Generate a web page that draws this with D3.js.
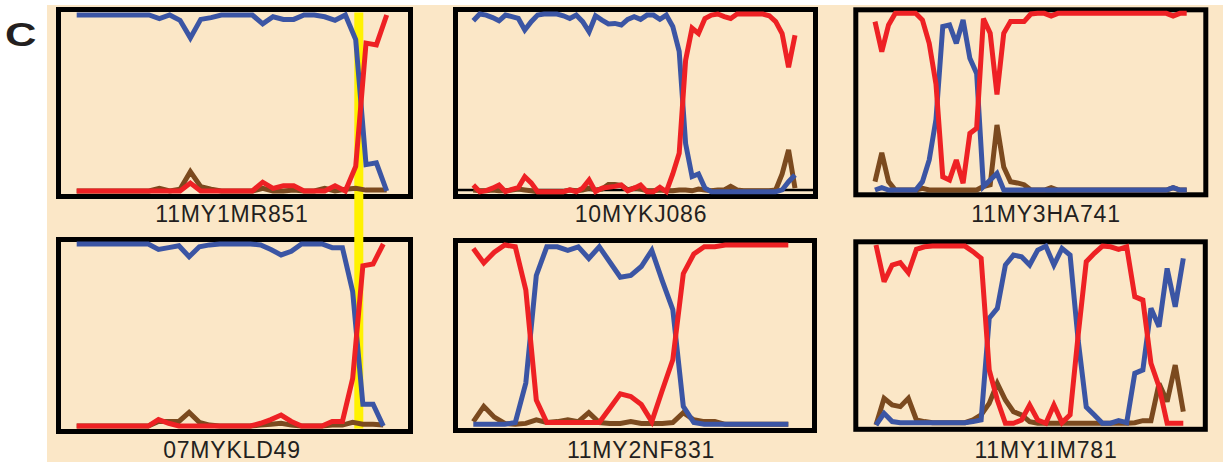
<!DOCTYPE html>
<html>
<head>
<meta charset="utf-8">
<script src="https://cdn.jsdelivr.net/npm/d3@7/dist/d3.min.js"></script>
<style>
  html, body { margin: 0; padding: 0; background: #fff; }
  svg { display: block; }
</style>
</head>
<body>
<div id="chart"></div>
<script>
// sample names, one per panel (row by row)
var sampleNames = ['11MY1MR851', '10MYKJ086', '11MY3HA741', '07MYKLD49', '11MY2NF831', '11MY1IM781'];

// panel 1 - 11MY1MR851
var mr851Blue  = [1,1,1,1,1,1,1,1,0.98,1,0.97,0.87,0.975,0.985,1,1,1,1,0.95,0.99,0.975,0.975,1,1,0.99,0.97,1,0.86,0.15,0.16,0];
var mr851Red   = [0,0,0,0,0,0,0,0,0,0,0,0.045,0,0,0,0,0,0,0.05,0.015,0.03,0.03,0,0,0,0.03,0,0.14,0.84,0.83,1];
var mr851Brown = [0,0,0,0,0,0,0,0,0.015,0,0.01,0.11,0.025,0.01,0,0,0,0,0.015,0,0,0.005,0,0,0.015,0,0.01,0.015,0.005,0.005,0.005];

// panel 2 - 10MYKJ086
var kj086Blue  = [0.962,1,0.994,0.98,0.962,0.994,0.985,0.975,0.91,0.957,0.994,1,1,1,0.99,0.975,0.994,0.957,0.9,0.99,
                  0.966,0.944,0.947,0.938,0.97,0.985,0.97,0.994,0.994,0.97,0.994,0.93,0.79,0.27,0.085,0.1,0.02,0,0,0,
                  0,0,0,0,0,0,0,0,0.01,0.056,0.094];
var kj086Red   = [0.038,0,0.006,0.02,0.038,0,0.013,0.023,0.084,0.05,0,0,0,0,0,0.01,0,0.02,0.066,0,
                  0.02,0.025,0.03,0.038,0.005,0.02,0.038,0,0,0.025,0,0.1,0.216,0.74,0.92,0.89,0.975,0.994,1,0.985,
                  0.975,1,1,1,1,1,0.99,0.957,0.89,0.7,0.88];
var kj086Brown = [0.01,0.005,0.005,0.01,0.005,0.005,0.01,0.015,0.01,0.005,0,0,0,0,0,0.01,0.005,0.01,0.02,0.01,
                  0.015,0.04,0.04,0.035,0.01,0.02,0.015,0.005,0.005,0.01,0.005,0.005,0.01,0.01,0.005,0.015,0.01,0.005,0.01,0.01,
                  0.03,0.01,0.005,0.005,0.005,0.005,0.005,0.01,0.1,0.235,0.02];

// panel 3 - 11MY3HA741
var ha741Blue  = [0,0.013,0,0,0,0,0,0.047,0.17,0.4,0.925,0.934,0.83,0.962,0.745,0.66,0.019,0.057,0.094,0,
                  0,0,0,0,0,0,0,0,0,0,0,0,0,0,0,0,0,0,0,0,0,0,0,0,0.013,0,0];
var ha741Red   = [0.953,0.783,0.934,1,1,1,1,0.962,0.83,0.6,0.075,0.057,0.17,0.038,0.32,0.35,0.97,0.887,0.54,0.887,
                  0.953,0.953,0.953,0.996,1,1,0.985,1,1,1,1,1,1,1,1,1,1,1,1,1,1,1,1,1,0.985,1,1];
var ha741Brown = [0.047,0.21,0.047,0,0,0,0,0.01,0,0,0,0,0,0,0,0,0.02,0.03,0.368,0.13,
                  0.047,0.04,0.03,0,0,0,0.013,0,0,0,0,0,0,0,0,0,0,0,0,0,0,0,0,0,0.013,0,0];

// panel 4 - 07MYKLD49
var kld49Blue  = [1,1,1,1,1,1,1,1,0.97,0.98,0.99,0.93,0.985,0.995,1,1,1,1,0.995,0.97,0.94,0.96,1,1,1,0.98,0.98,0.74,0.12,0.12,0];
var kld49Red   = [0,0,0,0,0,0,0,0,0.035,0.015,0,0,0,0,0,0,0,0,0.015,0.035,0.06,0.025,0,0,0,0.025,0.025,0.26,0.88,0.89,1];
var kld49Brown = [0,0,0,0,0,0,0,0,0.025,0.025,0.025,0.075,0.02,0.005,0,0,0,0,0.005,0.01,0.015,0.005,0,0,0,0.005,0.005,0.02,0.01,0.01,0.005];

// panel 5 - 11MY2NF831
var nf831Blue  = [0,0,0,0,0.01,0.23,0.83,0.99,0.99,0.97,0.99,0.925,0.99,0.905,0.82,0.83,0.88,0.97,0.8,0.64,0.1,0.01,0,0,0,0,0,0,0,0,0];
var nf831Red   = [0.98,0.9,0.96,1,0.99,0.75,0.135,0.01,0.01,0.01,0.01,0.01,0.01,0.09,0.17,0.155,0.11,0.015,0.19,0.36,0.84,0.95,0.99,0.99,1,1,1,1,1,1,1];
var nf831Brown = [0.015,0.1,0.04,0.005,0,0.005,0.025,0.01,0.015,0.025,0.015,0.065,0.01,0.005,0.005,0.015,0.005,0.005,0.005,0.01,0.065,0.025,0.015,0.015,0,0,0,0,0,0,0];

// panel 6 - 11MY1IM781
var im781Blue  = [0,0.065,0.019,0.013,0.013,0.013,0.013,0.013,0.013,0.013,0.013,0.013,0.019,0.028,0.593,0.648,0.889,0.944,0.935,0.889,
                  0.972,0.994,0.889,0.981,0.944,0.47,0.1,0.056,0.01,0.01,0.024,0.013,0.287,0.306,0.648,0.546,0.87,0.657,0.926];
var im781Red   = [1,0.796,0.889,0.902,0.846,0.976,0.99,0.994,0.994,0.994,0.994,0.994,0.963,0.926,0.306,0.139,0.01,0.01,0.028,0.111,
                  0.028,0.01,0.111,0.013,0.056,0.5,0.907,0.954,0.994,0.99,0.976,0.99,0.713,0.694,0.343,0.213,0.01,0.01,0.01];
var im781Brown = [0,0.148,0.111,0.102,0.148,0.028,0.019,0.013,0.013,0.013,0.013,0.013,0.028,0.056,0.12,0.231,0.139,0.074,0.056,0.019,
                  0.01,0.01,0.01,0.01,0.01,0.01,0.01,0.01,0.01,0.01,0.01,0.01,0.013,0.024,0.024,0.231,0.13,0.333,0.074];

// highlighted window (index on the 11MY1MR851 / 07MYKLD49 axis)
var highlightIndex = 27.3;

var seriesData = [
  [mr851Brown, mr851Blue, mr851Red],
  [kj086Brown, kj086Blue, kj086Red],
  [ha741Brown, ha741Blue, ha741Red],
  [kld49Brown, kld49Blue, kld49Red],
  [nf831Brown, nf831Blue, nf831Red],
  [im781Brown, im781Blue, im781Red]
];

var lineColors = ['#7b4a1f', '#3b55a4', '#ee2124'];

var width = 1223;
var height = 462;

// layout of each panel: frame rect, plot x/y ranges, label anchor
var layout = [
  { frame: [58.5, 9.5, 352, 187],   xr: [76.7, 386.7], yr: [191, 15],    lx: 232,  ly: 222 },
  { frame: [455.5, 9.5, 360, 187],  xr: [473.3, 795],  yr: [191.7, 14],  lx: 641,  ly: 222, base: 190 },
  { frame: [855.8, 9.8, 350, 185],  xr: [875, 1186.7], yr: [190, 13.3],  lx: 1046, ly: 222 },
  { frame: [58.5, 239.5, 352, 192], xr: [76.7, 383.3], yr: [426, 244],   lx: 232,  ly: 458 },
  { frame: [455.5, 240.5, 359, 190],xr: [473.3, 788.3],yr: [424.3, 245], lx: 641,  ly: 458 },
  { frame: [855.8, 241.8, 349.5, 187.5], xr: [876, 1183.3], yr: [425, 245], lx: 1046, ly: 458 }
];

var svg = d3.select('#chart')
  .append('svg')
  .attr('width', width)
  .attr('height', height);

svg.append('rect')
  .attr('x', 47)
  .attr('y', 5)
  .attr('width', width - 47)
  .attr('height', height - 5)
  .attr('fill', '#fbe7c7');

svg.append('text')
  .attr('transform', 'translate(5,46) scale(1.32,1)')
  .attr('font-family', 'Liberation Sans, Arial, sans-serif')
  .attr('font-weight', 'bold')
  .attr('font-size', 33)
  .attr('fill', '#231f20')
  .text('C');

// frames
layout.forEach(function(p) {
  svg.append('rect')
    .attr('x', p.frame[0])
    .attr('y', p.frame[1])
    .attr('width', p.frame[2])
    .attr('height', p.frame[3])
    .attr('fill', 'none')
    .attr('stroke', '#000')
    .attr('stroke-width', 5);
  if (p.base) {
    svg.append('line')
      .attr('x1', p.frame[0]).attr('x2', p.frame[0] + p.frame[2])
      .attr('y1', p.base).attr('y2', p.base)
      .attr('stroke', '#000')
      .attr('stroke-width', 2.5);
  }
});

// yellow highlight across the left column
var xHi = d3.scaleLinear().domain([0, mr851Blue.length - 1]).range(layout[0].xr);
svg.append('rect')
  .attr('x', xHi(highlightIndex) - 4.5)
  .attr('y', 12.5)
  .attr('width', 9)
  .attr('height', 416)
  .attr('fill', '#fff200');

// lines
seriesData.forEach(function(series, i) {
  var p = layout[i];
  var n = series[0].length;
  var x = d3.scaleLinear().domain([0, n - 1]).range(p.xr);
  var y = d3.scaleLinear().domain([0, 1]).range(p.yr);
  var line = d3.line()
    .x(function(d, k) { return x(k); })
    .y(function(d) { return y(d); });

  var g = svg.append('g');
  g.selectAll('path')
    .data(series)
    .enter()
    .append('path')
    .attr('d', line)
    .attr('fill', 'none')
    .attr('stroke', function(d, j) { return lineColors[j]; })
    .attr('stroke-width', 5)
    .attr('stroke-linejoin', 'miter')
    .attr('stroke-miterlimit', 3);

  svg.append('text')
    .attr('x', p.lx)
    .attr('y', p.ly)
    .attr('text-anchor', 'middle')
    .attr('font-family', 'Liberation Sans, Arial, sans-serif')
    .attr('font-size', 23)
    .attr('letter-spacing', 0.8)
    .attr('fill', '#231f20')
    .text(sampleNames[i]);
});
</script>
</body>
</html>
